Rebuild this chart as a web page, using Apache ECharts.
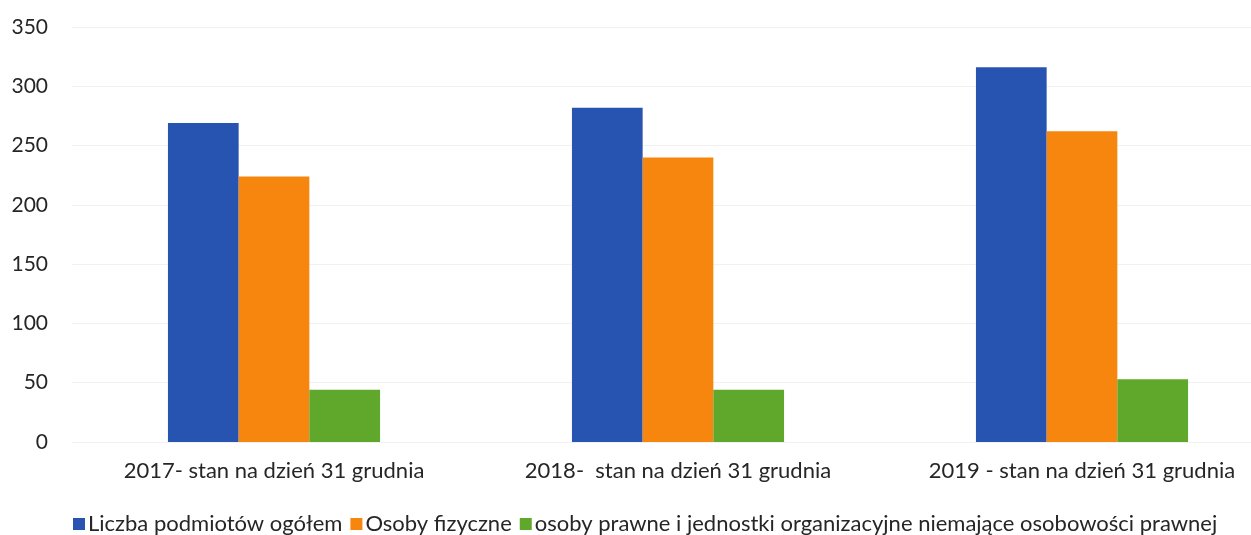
<!DOCTYPE html>
<html>
<head>
<meta charset="utf-8">
<script src="https://cdn.jsdelivr.net/npm/echarts@6/dist/echarts.min.js"></script>
<style>html,body{margin:0;padding:0;background:#fff;overflow:hidden;width:1251px;height:535px}#c{width:1290px;height:535px}</style>
</head>
<body>
<div id="c"></div>
<script>
const categories = ['2017- stan na dzień 31 grudnia', '2018-  stan na dzień 31 grudnia', '2019 - stan na dzień 31 grudnia'];
const seriesNames = ['Liczba podmiotów ogółem', 'Osoby fizyczne', 'osoby prawne i jednostki organizacyjne niemające osobowości prawnej'];
const totalValues = [269, 282, 316];
const personValues = [224, 240, 262];
const legalValues = [44, 44, 53];
const yTicks = { min: 0, max: 350, interval: 50 };

const colors = ['#2754b0', '#f7860f', '#5fa82b'];
const font = 'Lato, "Open Sans", sans-serif';
const chart = echarts.init(document.getElementById('c'), null, { renderer: 'canvas' });
const data = [totalValues, personValues, legalValues];
chart.setOption({
  animation: false,
  backgroundColor: '#ffffff',
  textStyle: { fontFamily: font },
  grid: { left: 72, right: 6, top: 27, bottom: 93, containLabel: false },
  legend: {
    left: 68, top: 508,
    itemWidth: 12, itemHeight: 12, itemGap: 8,
    icon: 'rect',
    textStyle: { fontSize: 22, color: '#262626', fontFamily: font, padding: [0, 0, 0, -2] },
    data: seriesNames
  },
  xAxis: {
    type: 'category',
    data: categories,
    axisLine: { show: false },
    axisTick: { show: false },
    axisLabel: { fontSize: 22, color: '#262626', margin: 18, fontFamily: font }
  },
  yAxis: {
    type: 'value',
    min: yTicks.min, max: yTicks.max, interval: yTicks.interval,
    axisLine: { show: false },
    axisTick: { show: false },
    splitLine: { lineStyle: { color: '#f1f1f1', width: 1 } },
    axisLabel: { fontSize: 21, color: '#262626', margin: 24, fontFamily: font }
  },
  series: seriesNames.map((n, i) => ({
    name: n,
    type: 'bar',
    data: data[i],
    barGap: '0%',
    barCategoryGap: '47.5%',
    itemStyle: { color: colors[i] }
  }))
});
</script>
</body>
</html>
